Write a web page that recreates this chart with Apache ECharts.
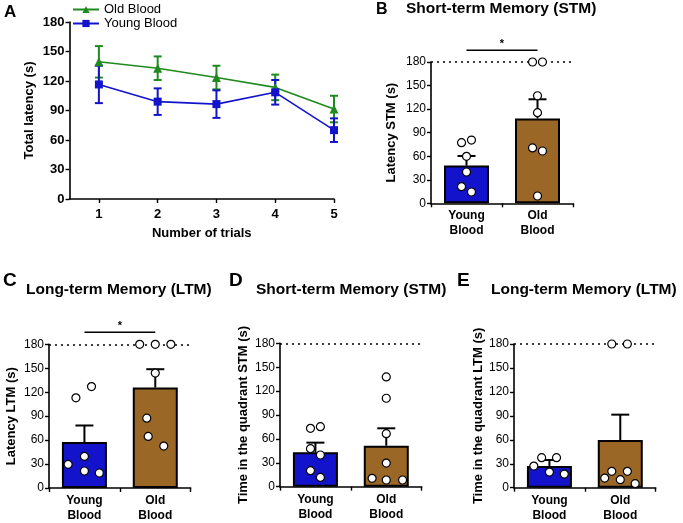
<!DOCTYPE html>
<html>
<head>
<meta charset="utf-8">
<script src="https://cdn.jsdelivr.net/npm/echarts@6/dist/echarts.min.js"></script>
<style>
html,body{margin:0;padding:0;background:#fff;}
#c{width:683px;height:523px;}
</style>
</head>
<body>
<div id="c"></div>
<script>
// ---------- Panel A data ----------
const trials = [1, 2, 3, 4, 5];
const oldBloodMeanA = [139.5, 133, 123.5, 113.5, 91.5];
const oldBloodSemA = [16, 12, 12, 13, 13.5];
const youngBloodMeanA = [116.5, 99, 96.5, 108.5, 70];
const youngBloodSemA = [19, 13.5, 14, 12.5, 12];

// ---------- Bar panels ----------
const groups = ['Young\nBlood', 'Old\nBlood'];

// B: Short-term memory latency
const stmLatencyMean = [48, 108];
const stmLatencySem = [12.3, 24.5];
const stmLatencyYoung = [77.2, 80.6, 59.8, 39.9, 21.2, 14.4];
const stmLatencyYoungJitter = [-0.07, 0.07, 0, 0, -0.07, 0.07];
const stmLatencyOld = [180, 180, 137, 115.4, 70.5, 66.6, 9.3];
const stmLatencyOldJitter = [-0.07, 0.07, 0, 0, -0.07, 0.07, 0];

// C: Long-term memory latency
const ltmLatencyMean = [57.5, 125.8];
const ltmLatencySem = [20.8, 23];
const ltmLatencyYoung = [127, 113, 39.6, 29.6, 21.3, 18.8];
const ltmLatencyYoungJitter = [0.1, -0.12, 0, -0.23, 0, 0.21];
const ltmLatencyOld = [180, 180, 180, 144, 87.5, 64.6, 52.5];
const ltmLatencyOldJitter = [-0.22, 0, 0.22, 0, -0.12, -0.1, 0.12];

// D: Time in quadrant STM
const stmQuadMean = [43.1, 51.5];
const stmQuadSem = [12.2, 21.8];
const stmQuadYoung = [73.3, 75.4, 47.7, 39.8, 20.1, 11.7];
const stmQuadYoungJitter = [-0.07, 0.07, -0.07, 0.07, -0.07, 0.07];
const stmQuadOld = [137.8, 111, 66.6, 29.7, 10.5, 8.4, 8.4];
const stmQuadOldJitter = [0, 0, 0, 0, -0.2, 0, 0.23];

// E: Time in quadrant LTM
const ltmQuadMean = [27.1, 59.7];
const ltmQuadSem = [7.6, 31.8];
const ltmQuadYoung = [37.6, 37.6, 27.1, 19.6, 17.1];
const ltmQuadYoungJitter = [-0.11, 0.1, -0.22, 0, 0.21];
const ltmQuadOld = [180, 180, 20.5, 20.5, 12.1, 10, 5];
const ltmQuadOldJitter = [-0.12, 0.1, -0.12, 0.1, -0.22, 0, 0.21];

const yTicks = { min: 0, max: 180, interval: 30 };
const ceiling = 180;
const sigLevel = 195;

// ---------- styles ----------
const FONT = 'Liberation Sans, Arial, sans-serif';
const GREEN = '#1f8b1f';
const BLUE = '#1313cc';
const BROWN = '#9a6727';

const chart = echarts.init(document.getElementById('c'), null, { renderer: 'canvas' });

function yAxisCfg(gridIndex, name, nameGap, labelBold, labelSize) {
  return {
    type: 'value', gridIndex, min: yTicks.min, max: yTicks.max, interval: yTicks.interval,
    name, nameLocation: 'middle', nameGap, nameRotate: 90,
    nameTextStyle: { fontFamily: FONT, fontWeight: 'bold', fontSize: 13, color: '#000' },
    axisLine: { show: true, onZero: false, lineStyle: { color: '#000', width: 1.6 } },
    axisTick: { show: true, length: 4, lineStyle: { color: '#000', width: 1.4 } },
    axisLabel: { fontFamily: FONT, fontSize: labelSize, fontWeight: labelBold ? 'bold' : 'normal', color: '#000', margin: 5 },
    splitLine: { show: false }
  };
}

function catAxisCfg(gridIndex) {
  return {
    type: 'category', gridIndex, data: groups,
    axisLine: { show: true, onZero: false, lineStyle: { color: '#000', width: 1.6 } },
    axisTick: { show: true, length: 4, lineStyle: { color: '#000', width: 1.4 } },
    axisLabel: { fontFamily: FONT, fontSize: 12, fontWeight: 'bold', color: '#000', margin: 5, lineHeight: 15 },
    splitLine: { show: false }
  };
}

function hiddenValAxis(gridIndex) {
  return { type: 'value', gridIndex, min: -0.5, max: 1.5, show: false,
    axisLine: { show: false, onZero: false }, splitLine: { show: false } };
}

function errRender(capPx, both, color, width) {
  return function (params, api) {
    const x = api.value(0), m = api.value(1), s = api.value(2);
    const top = api.coord([x, m + s]);
    const mid = api.coord([x, m]);
    const bot = both ? api.coord([x, m - s]) : mid;
    const h = capPx / 2;
    const st = { stroke: color, lineWidth: width };
    const children = [
      { type: 'line', shape: { x1: top[0], y1: top[1], x2: bot[0], y2: bot[1] }, style: st },
      { type: 'line', shape: { x1: top[0] - h, y1: top[1], x2: top[0] + h, y2: top[1] }, style: st }
    ];
    if (both) children.push({ type: 'line', shape: { x1: bot[0] - h, y1: bot[1], x2: bot[0] + h, y2: bot[1] }, style: st });
    return { type: 'group', children };
  };
}

function sigRender(params, api) {
  const a = api.coord([api.value(0), api.value(2)]);
  const b = api.coord([api.value(1), api.value(2)]);
  return {
    type: 'group', children: [
      { type: 'line', shape: { x1: a[0], y1: a[1], x2: b[0], y2: b[1] }, style: { stroke: '#000', lineWidth: 1.5 } },
      { type: 'text', style: { text: '*', x: (a[0] + b[0]) / 2, y: a[1] - 1, textAlign: 'center', textVerticalAlign: 'bottom', fontSize: 11, fontWeight: 'bold', fontFamily: FONT, fill: '#000' } }
    ]
  };
}

function dots(values, jitter, idx) {
  return values.map((v, i) => [idx + jitter[i], v]);
}

function barPanel(gi, catX, valX, mean, sem, young, youngJ, old, oldJ, withSig) {
  const s = [];
  s.push({
    type: 'bar', xAxisIndex: catX, yAxisIndex: gi, barWidth: 45, z: 2,
    data: [
      { value: mean[0], itemStyle: { color: BLUE, borderColor: '#000', borderWidth: 2 } },
      { value: mean[1], itemStyle: { color: BROWN, borderColor: '#000', borderWidth: 2 } }
    ],
    markLine: {
      silent: true, symbol: 'none', label: { show: false },
      lineStyle: { color: '#000', type: [2, 4], width: 1.6 },
      data: [{ yAxis: ceiling }]
    }
  });
  s.push({
    type: 'custom', xAxisIndex: catX, yAxisIndex: gi, z: 3,
    renderItem: errRender(18, false, '#000', 2),
    data: [[0, mean[0], sem[0]], [1, mean[1], sem[1]]]
  });
  s.push({
    type: 'scatter', xAxisIndex: valX, yAxisIndex: gi, z: 5,
    symbol: 'circle', symbolSize: 8,
    itemStyle: { color: '#fff', borderColor: '#000', borderWidth: 1.2, opacity: 1 },
    data: dots(young, youngJ, 0).concat(dots(old, oldJ, 1))
  });
  if (withSig) {
    s.push({
      type: 'custom', xAxisIndex: catX, yAxisIndex: gi, z: 4, clip: false,
      renderItem: sigRender, data: [[0, 1, sigLevel]]
    });
  }
  return s;
}

const titleStyle = (size) => ({ fontFamily: FONT, fontWeight: 'bold', fontSize: size, color: '#000' });

const option = {
  animation: false,
  backgroundColor: '#fff',
  title: [
    { text: 'A', left: 4, top: 4, padding: 0, textStyle: titleStyle(17) },
    { text: 'B', left: 376, top: 2, padding: 0, textStyle: titleStyle(16) },
    { text: 'Short-term Memory (STM)', left: 406, top: 1, padding: 0, textStyle: titleStyle(15.5) },
    { text: 'C', left: 3, top: 271, padding: 0, textStyle: titleStyle(19) },
    { text: 'Long-term Memory (LTM)', left: 26, top: 282, padding: 0, textStyle: titleStyle(15.5) },
    { text: 'D', left: 229, top: 271, padding: 0, textStyle: titleStyle(19) },
    { text: 'Short-term Memory (STM)', left: 256, top: 282, padding: 0, textStyle: titleStyle(15.5) },
    { text: 'E', left: 457, top: 271, padding: 0, textStyle: titleStyle(19) },
    { text: 'Long-term Memory (LTM)', left: 491, top: 282, padding: 0, textStyle: titleStyle(15.5) }
  ],
  legend: {
    data: ['Old Blood', 'Young Blood'], orient: 'vertical', left: 72, top: 3, padding: 0,
    itemWidth: 26, itemHeight: 9, itemGap: 1,
    textStyle: { fontFamily: FONT, fontSize: 13, color: '#000' }
  },
  grid: [
    { left: 69.5, top: 22, width: 264.5, height: 177 },
    { left: 431, top: 62, width: 142, height: 141.3 },
    { left: 49, top: 344.3, width: 141.7, height: 144 },
    { left: 280, top: 343.3, width: 141.7, height: 143.4 },
    { left: 514, top: 344, width: 141.7, height: 143.7 }
  ],
  xAxis: [
    {
      type: 'value', gridIndex: 0, min: 0.5, max: 5,
      name: 'Number of trials', nameLocation: 'middle', nameGap: 28,
      nameTextStyle: { fontFamily: FONT, fontWeight: 'bold', fontSize: 13, color: '#000' },
      axisLine: { show: true, onZero: false, lineStyle: { color: '#000', width: 1.6 } },
      axisTick: { show: true, length: 4, customValues: trials, lineStyle: { color: '#000', width: 1.4 } },
      axisLabel: { customValues: trials, fontFamily: FONT, fontSize: 13, fontWeight: 'bold', color: '#000', margin: 9 },
      splitLine: { show: false }
    },
    catAxisCfg(1), hiddenValAxis(1),
    catAxisCfg(2), hiddenValAxis(2),
    catAxisCfg(3), hiddenValAxis(3),
    catAxisCfg(4), hiddenValAxis(4)
  ],
  yAxis: [
    yAxisCfg(0, 'Total latency (s)', 34, true, 13),
    yAxisCfg(1, 'Latency STM (s)', 33, false, 12),
    yAxisCfg(2, 'Latency LTM (s)', 31, false, 12),
    yAxisCfg(3, 'Time in the quadrant STM (s)', 30, false, 12),
    yAxisCfg(4, 'Time in the quadrant LTM (s)', 28, false, 12)
  ],
  series: [
    {
      name: 'Old Blood', type: 'line', xAxisIndex: 0, yAxisIndex: 0, z: 3,
      symbol: 'triangle', symbolSize: 9, color: GREEN,
      lineStyle: { color: GREEN, width: 1.6 }, itemStyle: { color: GREEN },
      data: trials.map((t, i) => [t, oldBloodMeanA[i]])
    },
    {
      name: 'Young Blood', type: 'line', xAxisIndex: 0, yAxisIndex: 0, z: 3,
      symbol: 'rect', symbolSize: 8, color: BLUE,
      lineStyle: { color: BLUE, width: 1.6 }, itemStyle: { color: BLUE },
      data: trials.map((t, i) => [t, youngBloodMeanA[i]])
    },
    {
      type: 'custom', xAxisIndex: 0, yAxisIndex: 0, z: 2,
      renderItem: errRender(8, true, GREEN, 2),
      data: trials.map((t, i) => [t, oldBloodMeanA[i], oldBloodSemA[i]])
    },
    {
      type: 'custom', xAxisIndex: 0, yAxisIndex: 0, z: 2,
      renderItem: errRender(8, true, BLUE, 2),
      data: trials.map((t, i) => [t, youngBloodMeanA[i], youngBloodSemA[i]])
    }
  ]
    .concat(barPanel(1, 1, 2, stmLatencyMean, stmLatencySem, stmLatencyYoung, stmLatencyYoungJitter, stmLatencyOld, stmLatencyOldJitter, true))
    .concat(barPanel(2, 3, 4, ltmLatencyMean, ltmLatencySem, ltmLatencyYoung, ltmLatencyYoungJitter, ltmLatencyOld, ltmLatencyOldJitter, true))
    .concat(barPanel(3, 5, 6, stmQuadMean, stmQuadSem, stmQuadYoung, stmQuadYoungJitter, stmQuadOld, stmQuadOldJitter, false))
    .concat(barPanel(4, 7, 8, ltmQuadMean, ltmQuadSem, ltmQuadYoung, ltmQuadYoungJitter, ltmQuadOld, ltmQuadOldJitter, false))
};

chart.setOption(option);
</script>
</body>
</html>
